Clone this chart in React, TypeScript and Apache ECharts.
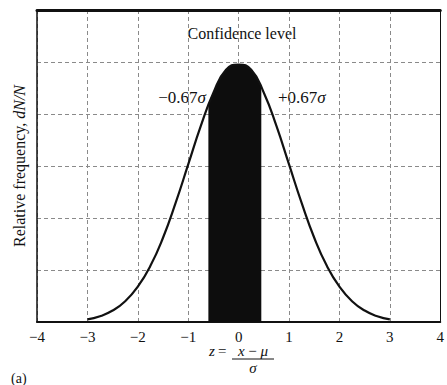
import React, { useEffect, useRef } from "react";
import * as echarts from "echarts";

// Normal curve (z, relative frequency in grid units)
const curveZ = [-3, -2.75, -2.5, -2.25, -2, -1.75, -1.5, -1.25, -1, -0.75, -0.5, -0.25, 0, 0.25, 0.5, 0.75, 1, 1.25, 1.5, 1.75, 2, 2.25, 2.5, 2.75, 3];
const curveY = [0.05, 0.11, 0.22, 0.4, 0.68, 1.08, 1.62, 2.29, 3.03, 3.77, 4.41, 4.85, 4.95, 4.85, 4.41, 3.77, 3.03, 2.29, 1.62, 1.08, 0.68, 0.4, 0.22, 0.11, 0.05];

// Shaded confidence band (as drawn)
const shadeZ = [-0.6, -0.5, -0.25, 0, 0.25, 0.45];
const shadeY = [4.2, 4.41, 4.85, 4.95, 4.85, 4.52];

const xTicks = [-4, -3, -2, -1, 0, 1, 2, 3, 4];
const leftLabel = "−0.67{i|σ}";
const rightLabel = "+0.67{i|σ}";
const titleText = "Confidence level";

const SERIF = "Liberation Serif";

export default function App() {
  const ref = useRef<HTMLDivElement>(null);
  useEffect(() => {
    if (!ref.current) return;
    const chart = echarts.init(ref.current, null, { renderer: "svg" });
    const dash = { type: [4, 3] as any, color: "#8a8a8a", width: 1 };
    const sigmaRich = { i: { fontStyle: "italic", fontFamily: SERIF, fontSize: 17, fill: "#111" } } as any;
    chart.setOption({
      animation: false,
      backgroundColor: "#ffffff",
      textStyle: { fontFamily: SERIF, color: "#111" },
      grid: { left: 37, right: 1, top: 10, bottom: 63 },
      xAxis: [
        {
          type: "value",
          min: xTicks[0],
          max: xTicks[xTicks.length - 1],
          interval: 1,
          axisLine: { show: true, onZero: false, lineStyle: { color: "#111", width: 2 } },
          axisTick: { show: false },
          splitLine: { show: true, lineStyle: dash },
          axisLabel: {
            show: true,
            margin: 7,
            fontFamily: SERIF,
            fontSize: 15,
            color: "#111",
            showMaxLabel: true,
            showMinLabel: true,
            formatter: (v: number) => String(v).replace("-", "−"),
          },
        },
        {
          type: "value",
          position: "top",
          min: xTicks[0],
          max: xTicks[xTicks.length - 1],
          axisLine: { show: true, onZero: false, lineStyle: { color: "#111", width: 3 } },
          axisTick: { show: false },
          axisLabel: { show: false },
          splitLine: { show: false },
        },
      ],
      yAxis: [
        {
          type: "value",
          min: 0,
          max: 6,
          interval: 1,
          axisLine: { show: true, onZero: false, lineStyle: { color: "#111", width: 1.5 } },
          axisTick: { show: false },
          axisLabel: { show: false },
          splitLine: { show: true, lineStyle: dash },
          name: "Relative frequency, {i|dN/N}",
          nameLocation: "middle",
          nameGap: 10,
          nameTextStyle: {
            fontFamily: SERIF,
            fontSize: 16,
            color: "#111",
            rich: { i: { fontStyle: "italic", fontFamily: SERIF, fontSize: 16, color: "#111" } },
          },
        },
        {
          type: "value",
          position: "right",
          min: 0,
          max: 6,
          axisLine: { show: true, onZero: false, lineStyle: { color: "#111", width: 1 } },
          axisTick: { show: false },
          axisLabel: { show: false },
          splitLine: { show: false },
        },
      ],
      series: [
        {
          type: "line",
          data: shadeZ.map((z, i) => [z, shadeY[i]]),
          smooth: true,
          symbol: "none",
          lineStyle: { width: 0 },
          areaStyle: { color: "#0d0d0d", opacity: 1 },
          z: 2,
        },
        {
          type: "line",
          data: curveZ.map((z, i) => [z, curveY[i]]),
          smooth: true,
          symbol: "none",
          lineStyle: { color: "#111", width: 2.2 },
          z: 3,
        },
      ],
      graphic: [
        {
          type: "text",
          x: 242,
          y: 33,
          style: { text: titleText, fontFamily: SERIF, fontSize: 16, fill: "#111", align: "center", verticalAlign: "middle" },
        },
        {
          type: "text",
          x: 206,
          y: 97,
          style: { text: leftLabel, fontFamily: SERIF, fontSize: 17, fill: "#111", align: "right", verticalAlign: "middle", rich: sigmaRich },
        },
        {
          type: "text",
          x: 278,
          y: 97,
          style: { text: rightLabel, fontFamily: SERIF, fontSize: 17, fill: "#111", align: "left", verticalAlign: "middle", rich: sigmaRich },
        },
        {
          type: "text",
          x: 209,
          y: 351,
          style: { text: "z", fontFamily: SERIF, fontStyle: "italic", fontSize: 15, fill: "#111", verticalAlign: "middle" },
        },
        {
          type: "text",
          x: 218,
          y: 351,
          style: { text: "=", fontFamily: SERIF, fontSize: 15, fill: "#111", verticalAlign: "middle" },
        },
        {
          type: "text",
          x: 253,
          y: 351,
          style: { text: "{i|x} − {i|μ}", fontFamily: SERIF, fontSize: 15, fill: "#111", align: "center", verticalAlign: "middle",
            rich: { i: { fontStyle: "italic", fontFamily: SERIF, fontSize: 15 } } as any },
        },
        {
          type: "line",
          shape: { x1: 232, y1: 359, x2: 274, y2: 359 },
          style: { stroke: "#111", lineWidth: 1 },
        },
        {
          type: "text",
          x: 253,
          y: 368,
          style: { text: "σ", fontFamily: SERIF, fontStyle: "italic", fontSize: 15, fill: "#111", align: "center", verticalAlign: "middle" },
        },
        {
          type: "text",
          x: 11,
          y: 378,
          style: { text: "(a)", fontFamily: SERIF, fontSize: 14, fill: "#111", verticalAlign: "middle" },
        },
      ],
    });
    return () => chart.dispose();
  }, []);
  return (
    <div
      ref={ref}
      style={{ position: "absolute", left: 0, top: 0, width: 447, height: 385, background: "#fff" }}
    />
  );
}
